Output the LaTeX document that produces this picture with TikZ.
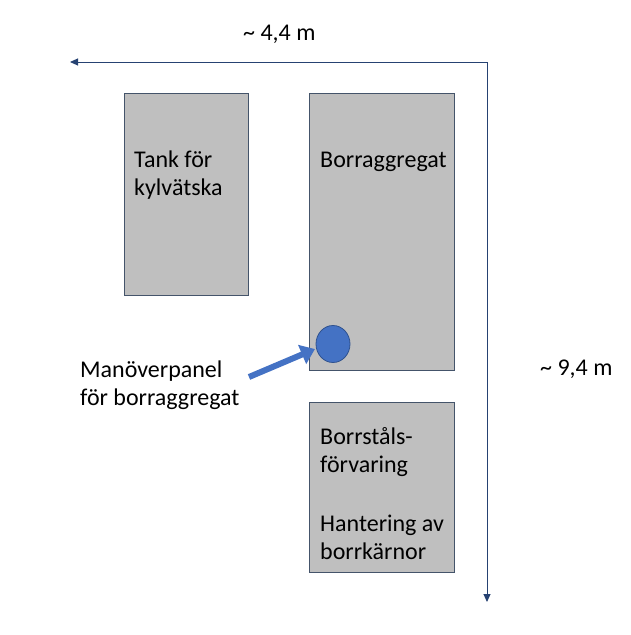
\documentclass[tikz,border=0pt]{standalone}
\usepackage{fontspec}
\setmainfont{Carlito}
\usetikzlibrary{arrows.meta,shapes.geometric}
\definecolor{boxfill}{HTML}{BFBFBF}
\definecolor{boxline}{HTML}{44546A}
\definecolor{accent}{HTML}{4472C4}
\definecolor{accentdark}{HTML}{2F528F}
\tikzset{
  area/.style={draw=boxline, line width=0.9pt, fill=boxfill, anchor=north west, inner sep=0pt},
  lbl/.style={font=\fontsize{24}{28}\selectfont, anchor=base west, inner sep=0pt},
  dim/.style={draw=accentdark!80!black, line width=1pt},
  x=1pt, y=-1pt
}
\begin{document}
\begin{tikzpicture}
\useasboundingbox (0,0) rectangle (630,635);
% boxes
\node[area, minimum width=124pt, minimum height=202pt] (tank) at (124,93) {};
\node[area, minimum width=145pt, minimum height=277pt] (borr) at (309,93) {};
\node[area, minimum width=145pt, minimum height=170pt] (stal) at (309,402) {};
% labels inside
\node[lbl] (tank1) at (134,167) {Tank för};
\node[lbl] (tank2) at (134,195) {kylvätska};
\node[lbl] (borrtxt) at (320,167) {Borraggregat};
\node[lbl] (stal1) at (320,444) {Borrståls-};
\node[lbl] (stal2) at (320,472) {förvaring};
\node[lbl] (hant1) at (320,531) {Hantering av};
\node[lbl] (hant2) at (320,559) {borrkärnor};
% panel
\node[draw=accentdark, fill=accent, ellipse, minimum width=34pt, minimum height=37pt, inner sep=0pt, line width=0.8pt] (panel) at (333,344) {};
\node[lbl] (panel1) at (80,377) {Manöverpanel};
\node[lbl] (panel2) at (80,405) {för borraggregat};
\coordinate (pstart) at (249,377);
\coordinate (ptip) at (315,349);
\draw[accent, line width=6pt, -{Triangle[length=14pt,width=20pt]}] (pstart) -- (ptip);
% dimension lines
\coordinate (corner) at (487,62);
\coordinate (leftend) at (70,62);
\coordinate (bottomend) at (487,602);
\draw[dim, -{Triangle[length=8pt,width=7pt]}] (corner) -- (leftend);
\draw[dim, -{Triangle[length=8pt,width=7pt]}] (corner) -- (bottomend);
\node[lbl] (w) at (243,40) {\textasciitilde{} 4,4 m};
\node[lbl] (h) at (540,375) {\textasciitilde{} 9,4 m};
\end{tikzpicture}
\end{document}
